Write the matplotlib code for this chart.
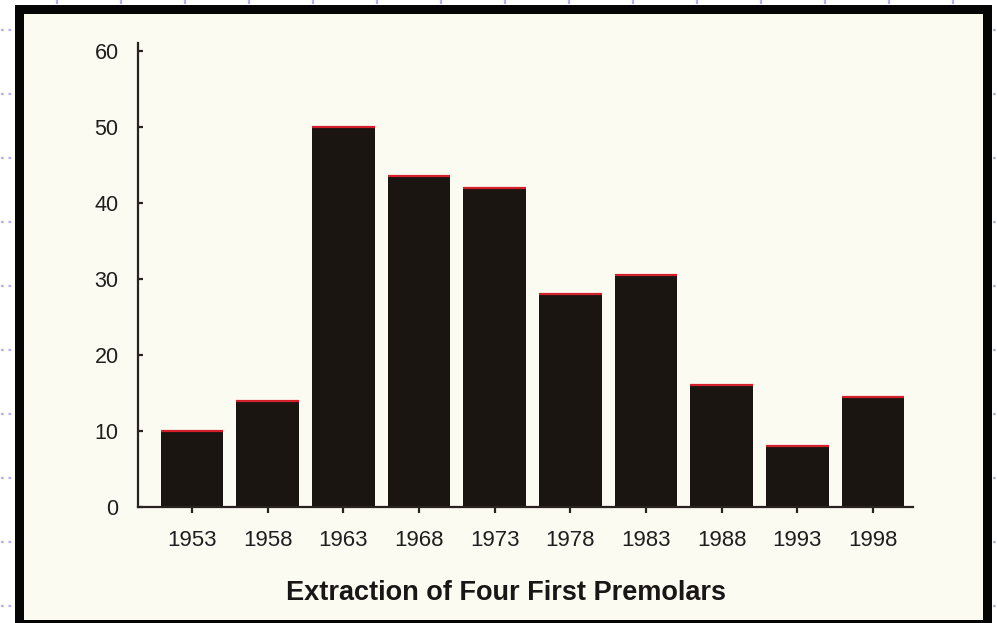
import matplotlib
matplotlib.use("Agg")
import matplotlib.pyplot as plt
from matplotlib.patches import Rectangle
from matplotlib.lines import Line2D

# ---- data ----
years = ["1953", "1958", "1963", "1968", "1973", "1978", "1983", "1988", "1993", "1998"]
values = [10, 14, 50, 43.5, 42, 28, 30.5, 16, 8, 14.5]
y_ticks = [0, 10, 20, 30, 40, 50, 60]
x_title = "Extraction of Four First Premolars"

W, H = 997, 623
fig = plt.figure(figsize=(W / 100, H / 100), dpi=100)
fig.patch.set_facecolor("white")

def fx(px):
    return px / W

def fy(py):
    return (H - py) / H

# black frame and cream page
fig.add_artist(Rectangle((fx(15), fy(623)), fx(992) - fx(15), fy(5) - fy(623),
                         transform=fig.transFigure, facecolor="#050505", edgecolor="none", zorder=0))
fig.add_artist(Rectangle((fx(24), fy(620)), fx(983) - fx(24), fy(14) - fy(620),
                         transform=fig.transFigure, facecolor="#fcfbf2", edgecolor="none", zorder=0.1))

# faint blue page guides outside the frame
guide = "#aab5ee"
for py in range(30, 623, 64):
    fig.add_artist(Line2D([fx(1), fx(14)], [fy(py), fy(py)], transform=fig.transFigure,
                          color=guide, lw=1.6, ls=(0, (1.2, 2.2)), zorder=0.2))
    fig.add_artist(Line2D([fx(993), fx(997)], [fy(py), fy(py)], transform=fig.transFigure,
                          color=guide, lw=1.6, ls=(0, (1.2, 2.2)), zorder=0.2))
for px in range(57, 997, 64):
    fig.add_artist(Line2D([fx(px), fx(px)], [fy(1), fy(3)], transform=fig.transFigure,
                          color=guide, lw=1.6, zorder=0.2))

# axes placement (pixels)
ax_left, ax_right, ax_bottom = 138, 913, 507
ymax = 61
px_per_unit = 7.6
ax_top = ax_bottom - ymax * px_per_unit
ax = fig.add_axes([fx(ax_left), fy(ax_bottom), fx(ax_right) - fx(ax_left), fy(ax_top) - fy(ax_bottom)])
ax.set_zorder(5)
ax.set_facecolor("none")

x = list(range(len(years)))
bw = 0.83
bar_color = "#1b1512"
ax.bar(x, values, width=bw, color=bar_color, edgecolor="none", zorder=2)
ax.hlines(values, [i - bw / 2 for i in x], [i + bw / 2 for i in x],
          colors="#d4202a", lw=1.6, zorder=3)

ax.set_xlim(-0.714, 9.53)
ax.set_ylim(0, ymax)

for s in ["top", "right"]:
    ax.spines[s].set_visible(False)
axis_col = "#2a2220"
for s in ["left", "bottom"]:
    ax.spines[s].set_color(axis_col)
    ax.spines[s].set_linewidth(1.6)
    ax.spines[s].set_zorder(4)

ax.set_yticks(y_ticks)
ax.set_yticklabels([str(v) for v in y_ticks])
ax.set_xticks(x)
ax.set_xticklabels(years)

font = "Liberation Sans"
ax.tick_params(axis="y", direction="in", length=3.5, width=1.6, color=axis_col,
               pad=14, labelsize=15.5, labelcolor="#1e1e1e")
ax.tick_params(axis="x", direction="out", length=4.5, width=1.6, color=axis_col,
               pad=12, labelsize=16, labelcolor="#1e1e1e")
for lab in ax.get_xticklabels() + ax.get_yticklabels():
    lab.set_fontfamily(font)

ax.set_xlabel(x_title, fontsize=19.5, fontweight="bold", fontfamily=font,
              color="#1a1616", labelpad=21)
ax.xaxis.label.set_x((506 - ax_left) / (ax_right - ax_left))

fig.savefig("out.png", dpi=100, facecolor=fig.get_facecolor())
